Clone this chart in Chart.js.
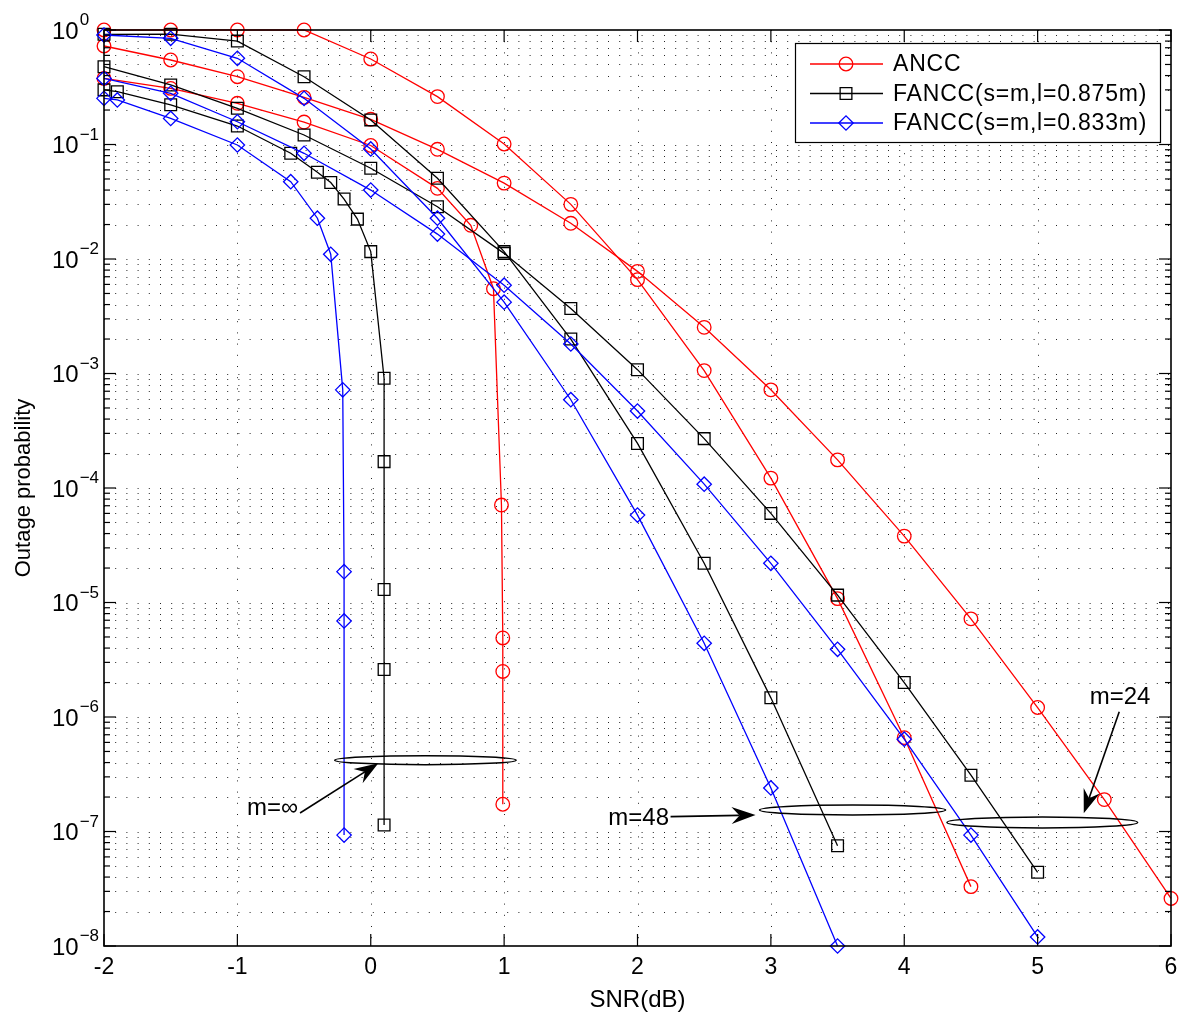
<!DOCTYPE html>
<html>
<head>
<meta charset="utf-8">
<script src="https://cdn.jsdelivr.net/npm/chart.js@4.4.1/dist/chart.umd.min.js"></script>
<style>
    html, body { margin: 0; padding: 0; background: #fff; }
    #wrap { width: 1200px; height: 1036px; }
</style>
</head>
<body>
<div id="wrap"><canvas id="outageChart" width="1200" height="1036"></canvas></div>
<script>
// values: SNR (dB) against outage probability
var xTickLabels = ['-2', '-1', '0', '1', '2', '3', '4', '5', '6'];
var xTickValues = [-2, -1, 0, 1, 2, 3, 4, 5, 6];
var yDecades = [0, -1, -2, -3, -4, -5, -6, -7, -8];
var legendLabels = ['ANCC', 'FANCC(s=m,l=0.875m)', 'FANCC(s=m,l=0.833m)'];
var noteLabels = ['m=\u221e', 'm=48', 'm=24'];

// ANCC
var anccM48X = [-2, -1.5, -1, -0.5, 0, 0.5, 1, 1.5, 2, 2.5, 3, 3.5, 4, 4.5];
var anccM48Y = [1.0, 1.0, 1.0, 1.0, 0.558, 0.262, 0.101, 0.030, 0.0066, 1.06e-3, 1.22e-4, 1.08e-5, 6.6e-7, 3.3e-8];
var anccM24X = [-2, -1.5, -1, -0.5, 0, 0.5, 1, 1.5, 2, 2.5, 3, 3.5, 4, 4.5, 5, 5.5, 6];
var anccM24Y = [0.725, 0.547, 0.391, 0.258, 0.166, 0.0908, 0.046, 0.0205, 0.0078, 0.00253, 7.2e-4, 1.76e-4, 3.8e-5, 7.2e-6, 1.21e-6, 1.9e-7, 2.6e-8];
var anccInfX = [-2, -1.5, -1, -0.5, 0, 0.5, 0.75, 0.92, 0.98, 0.99, 0.99, 0.99];
var anccInfY = [0.378, 0.309, 0.229, 0.157, 0.098, 0.0414, 0.0197, 0.0055, 7.1e-5, 4.9e-6, 2.5e-6, 1.73e-7];

// FANCC l=0.875m
var f875M48X = [-2, -1.5, -1, -0.5, 0, 0.5, 1, 1.5, 2, 2.5, 3, 3.5];
var f875M48Y = [0.917, 0.92, 0.80, 0.391, 0.164, 0.0507, 0.0116, 0.0020, 2.45e-4, 2.2e-5, 1.47e-6, 7.5e-8];
var f875M24X = [-2, -1.5, -1, -0.5, 0, 0.5, 1, 1.5, 2, 2.5, 3, 3.5, 4, 4.5, 5];
var f875M24Y = [0.478, 0.331, 0.207, 0.121, 0.062, 0.0286, 0.0112, 0.0037, 1.08e-3, 2.7e-4, 6.0e-5, 1.16e-5, 2.0e-6, 3.1e-7, 4.4e-8];
var f875InfX = [-2, -1.9, -1.5, -1, -0.6, -0.4, -0.3, -0.2, -0.1, 0, 0.1, 0.1, 0.1, 0.1, 0.1];
var f875InfY = [0.30, 0.289, 0.222, 0.145, 0.0838, 0.0572, 0.0465, 0.0334, 0.0223, 0.0116, 9.1e-4, 1.7e-4, 1.3e-5, 2.6e-6, 1.14e-7];

// FANCC l=0.833m
var f833M48X = [-2, -1.5, -1, -0.5, 0, 0.5, 1, 1.5, 2, 2.5, 3, 3.5];
var f833M48Y = [0.904, 0.846, 0.566, 0.253, 0.0914, 0.0227, 0.0042, 5.9e-4, 5.8e-5, 4.4e-6, 2.4e-7, 1.0e-8];
var f833M24X = [-2, -1.5, -1, -0.5, 0, 0.5, 1, 1.5, 2, 2.5, 3, 3.5, 4, 4.5, 5];
var f833M24Y = [0.378, 0.28, 0.158, 0.0838, 0.040, 0.0165, 0.0059, 0.00181, 4.7e-4, 1.08e-4, 2.2e-5, 3.9e-6, 6.4e-7, 9.3e-8, 1.2e-8];
var f833InfX = [-2, -1.9, -1.5, -1, -0.6, -0.4, -0.3, -0.21, -0.2, -0.2, -0.2];
var f833InfY = [0.253, 0.245, 0.169, 0.099, 0.0473, 0.0227, 0.011, 7.2e-4, 1.86e-5, 6.9e-6, 9.3e-8];

var FONT = '"Liberation Sans", Arial, Helvetica, sans-serif';
var RED = '#ff0000', BLACK = '#000000', BLUE = '#0000ff';

function pts(xs, ys) {
    return xs.map(function (x, i) { return { x: x, y: ys[i] }; });
}

function curve(xs, ys, color, style, radius, order) {
    return {
        data: pts(xs, ys),
        showLine: true,
        borderColor: color,
        borderWidth: 1.3,
        pointStyle: style,
        pointRadius: radius,
        pointHoverRadius: radius,
        pointBorderColor: color,
        pointBackgroundColor: 'rgba(0,0,0,0)',
        pointBorderWidth: 1.3,
        tension: 0,
        clip: false,
        order: order
    };
}

var series = [
    curve(anccM48X, anccM48Y, RED, 'circle', 6.8, 3),
    curve(anccM24X, anccM24Y, RED, 'circle', 6.8, 3),
    curve(anccInfX, anccInfY, RED, 'circle', 6.8, 3),
    curve(f875M48X, f875M48Y, BLACK, 'rect', 8.3, 2),
    curve(f875M24X, f875M24Y, BLACK, 'rect', 8.3, 2),
    curve(f875InfX, f875InfY, BLACK, 'rect', 8.3, 2),
    curve(f833M48X, f833M48Y, BLUE, 'rectRot', 7.2, 1),
    curve(f833M24X, f833M24Y, BLUE, 'rectRot', 7.2, 1),
    curve(f833InfX, f833InfY, BLUE, 'rectRot', 7.2, 1)
];

// annotation rings and arrows, placed in data units
var rings = [
    { x1: -0.27, x2: 1.09, y: 4.2e-7, ry: 4.5 },
    { x1: 2.915, x2: 4.31, y: 1.54e-7, ry: 5 },
    { x1: 4.32, x2: 5.75, y: 1.2e-7, ry: 5.5 }
];
var arrows = [
    { x0: -0.53, y0: 1.45e-7, x1: 0.057, y1: 3.94e-7 },
    { x0: 2.248, y0: 1.35e-7, x1: 2.885, y1: 1.39e-7 },
    { x0: 5.612, y0: 1.11e-6, x1: 5.346, y1: 1.44e-7 }
];
var notePos = [
    { x: -0.545, y: 1.6e-7, align: 'right' },
    { x: 2.236, y: 1.31e-7, align: 'right' },
    { x: 5.618, y: 1.47e-6, align: 'center' }
];

function line(ctx, x0, y0, x1, y1) {
    ctx.beginPath();
    ctx.moveTo(x0, y0);
    ctx.lineTo(x1, y1);
    ctx.stroke();
}

function marker(ctx, style, x, y, r) {
    ctx.beginPath();
    if (style === 'circle') {
        ctx.arc(x, y, r, 0, Math.PI * 2);
    } else if (style === 'rect') {
        var s = r * Math.SQRT1_2;
        ctx.rect(x - s, y - s, 2 * s, 2 * s);
    } else {
        ctx.moveTo(x - r, y);
        ctx.lineTo(x, y - r);
        ctx.lineTo(x + r, y);
        ctx.lineTo(x, y + r);
        ctx.closePath();
    }
    ctx.stroke();
}

function yGridValues() {
    var out = [];
    yDecades.forEach(function (k) {
        if (k === 0) return;
        for (var m = 1; m <= 9; m++) out.push({ v: m * Math.pow(10, k), major: m === 1 });
    });
    out.push({ v: 1, major: true });
    return out;
}

var matlabAxes = {
    id: 'matlabAxes',
    beforeDatasetsDraw: function (chart) {
        var ctx = chart.ctx, a = chart.chartArea;
        var xs = chart.scales.x, ys = chart.scales.y;
        ctx.save();
        ctx.strokeStyle = 'rgba(0,0,0,0.85)';
        ctx.lineWidth = 1;
        ctx.setLineDash([1, 10.2]);
        yGridValues().forEach(function (g) {
            var y = Math.round(ys.getPixelForValue(g.v)) + 0.5;
            if (y <= a.top + 1 || y >= a.bottom - 1) return;
            line(ctx, a.left, y, a.right, y);
        });
        xTickValues.forEach(function (v) {
            var x = Math.round(xs.getPixelForValue(v)) + 0.5;
            if (x <= a.left + 1 || x >= a.right - 1) return;
            line(ctx, x, a.top, x, a.bottom);
        });
        ctx.restore();
    },
    afterDatasetsDraw: function (chart) {
        var ctx = chart.ctx, a = chart.chartArea;
        var xs = chart.scales.x, ys = chart.scales.y;
        ctx.save();
        ctx.setLineDash([]);
        ctx.strokeStyle = BLACK;

        // ticks pointing inwards, on all four sides
        ctx.lineWidth = 1.2;
        yGridValues().forEach(function (g) {
            var y = ys.getPixelForValue(g.v);
            var len = g.major ? 12 : 6;
            line(ctx, a.left, y, a.left + len, y);
            line(ctx, a.right, y, a.right - len, y);
        });
        xTickValues.forEach(function (v) {
            var x = xs.getPixelForValue(v);
            line(ctx, x, a.bottom, x, a.bottom - 12);
            line(ctx, x, a.top, x, a.top + 12);
        });

        // axes box
        ctx.lineWidth = 1.6;
        ctx.strokeRect(a.left, a.top, a.right - a.left, a.bottom - a.top);

        // y tick labels 10^k
        ctx.fillStyle = BLACK;
        ctx.textAlign = 'left';
        ctx.textBaseline = 'alphabetic';
        yDecades.forEach(function (k) {
            var y = ys.getPixelForValue(Math.pow(10, k));
            ctx.font = '24px ' + FONT;
            ctx.fillText('10', 52, y + 8.6);
            var w = ctx.measureText('10').width;
            ctx.font = '17px ' + FONT;
            ctx.fillText(k === 0 ? '0' : '\u2212' + (-k), 52 + w + 1, y - 5);
        });

        // rings, arrows and their labels
        ctx.lineWidth = 1.5;
        rings.forEach(function (r) {
            var p0 = xs.getPixelForValue(r.x1), p1 = xs.getPixelForValue(r.x2);
            var cy = ys.getPixelForValue(r.y);
            ctx.beginPath();
            ctx.ellipse((p0 + p1) / 2, cy, (p1 - p0) / 2, r.ry, 0, 0, Math.PI * 2);
            ctx.stroke();
        });
        arrows.forEach(function (ar) {
            var sx = xs.getPixelForValue(ar.x0), sy = ys.getPixelForValue(ar.y0);
            var tx = xs.getPixelForValue(ar.x1), ty = ys.getPixelForValue(ar.y1);
            var ang = Math.atan2(ty - sy, tx - sx);
            var ux = Math.cos(ang), uy = Math.sin(ang);
            var len = 24, half = 8.5, notch = 16;
            ctx.lineWidth = 1.6;
            line(ctx, sx, sy, tx - ux * notch, ty - uy * notch);
            ctx.beginPath();
            ctx.moveTo(tx, ty);
            ctx.lineTo(tx - ux * len - uy * half, ty - uy * len + ux * half);
            ctx.lineTo(tx - ux * notch, ty - uy * notch);
            ctx.lineTo(tx - ux * len + uy * half, ty - uy * len - ux * half);
            ctx.closePath();
            ctx.fill();
        });
        ctx.font = '24px ' + FONT;
        ctx.textBaseline = 'middle';
        notePos.forEach(function (n, i) {
            ctx.textAlign = n.align;
            ctx.fillText(noteLabels[i], xs.getPixelForValue(n.x), ys.getPixelForValue(n.y));
        });

        // legend box, top right
        var lx = a.right - 376, ly = a.top + 13, lw = 365, lh = 99;
        ctx.fillStyle = '#ffffff';
        ctx.fillRect(lx, ly, lw, lh);
        ctx.lineWidth = 1.2;
        ctx.strokeStyle = BLACK;
        ctx.strokeRect(lx + 0.5, ly + 0.5, lw, lh);
        var styles = [[RED, 'circle', 6.8], [BLACK, 'rect', 8.3], [BLUE, 'rectRot', 7.2]];
        ctx.font = '23px ' + FONT;
        ctx.letterSpacing = '0.8px';
        ctx.textAlign = 'left';
        ctx.textBaseline = 'middle';
        legendLabels.forEach(function (label, i) {
            var y = ly + 21 + i * 29.5;
            ctx.strokeStyle = styles[i][0];
            ctx.lineWidth = 1.3;
            line(ctx, lx + 15, y, lx + 88, y);
            marker(ctx, styles[i][1], lx + 51, y, styles[i][2]);
            ctx.fillStyle = BLACK;
            ctx.fillText(label, lx + 98, y + 1);
        });
        ctx.restore();
    }
};

new Chart(document.getElementById('outageChart'), {
    type: 'scatter',
    data: { datasets: series },
    options: {
        responsive: false,
        animation: false,
        devicePixelRatio: 1,
        layout: { padding: { top: 30, right: 29, left: 0, bottom: 0 } },
        plugins: { legend: { display: false }, tooltip: { enabled: false } },
        scales: {
            x: {
                type: 'linear',
                min: -2,
                max: 6,
                afterFit: function (scale) { scale.height = 90; },
                afterBuildTicks: function (scale) {
                    scale.ticks = xTickValues.map(function (v) { return { value: v }; });
                },
                grid: { display: false, drawTicks: false },
                border: { display: false },
                ticks: {
                    padding: 8,
                    maxRotation: 0,
                    autoSkip: false,
                    color: BLACK,
                    font: { family: FONT, size: 23 },
                    callback: function (v) {
                        var i = xTickValues.indexOf(v);
                        return i < 0 ? '' : xTickLabels[i];
                    }
                },
                title: {
                    display: true,
                    text: 'SNR(dB)',
                    color: BLACK,
                    font: { family: FONT, size: 24 },
                    padding: { top: 0, bottom: 21 }
                }
            },
            y: {
                type: 'logarithmic',
                min: 1e-8,
                max: 1,
                afterFit: function (scale) { scale.width = 104; },
                grid: { display: false, drawTicks: false },
                border: { display: false },
                ticks: { display: false },
                title: {
                    display: true,
                    text: 'Outage probability',
                    color: BLACK,
                    font: { family: FONT, size: 22 },
                    padding: { top: 10.8, bottom: 0 }
                }
            }
        }
    },
    plugins: [matlabAxes]
});
</script>
</body>
</html>
